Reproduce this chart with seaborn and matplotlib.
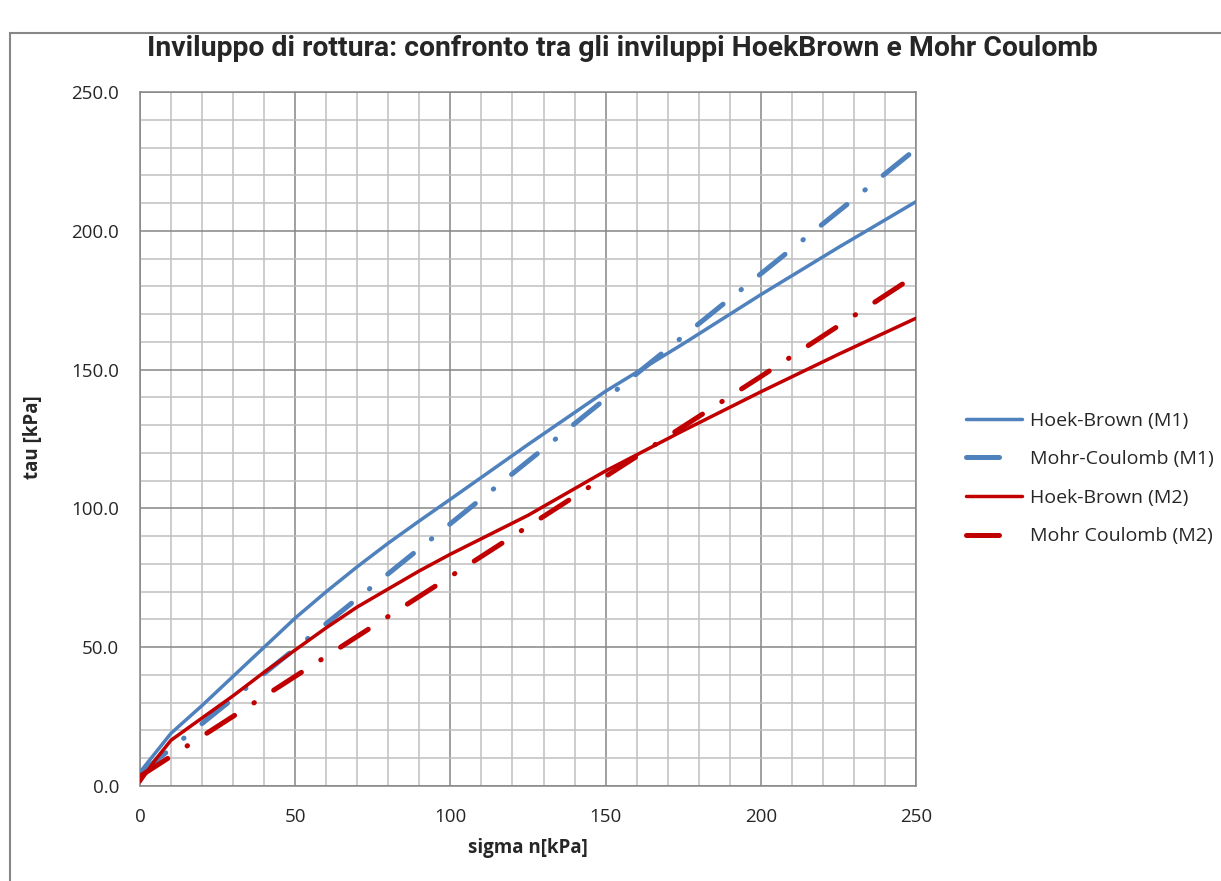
import numpy as np
import pandas as pd
import matplotlib
matplotlib.use("Agg")
import matplotlib.pyplot as plt
import seaborn as sns
from matplotlib.ticker import MultipleLocator, FormatStrFormatter
from matplotlib.patches import Rectangle

# ---- data ----
sigma_hb = [0, 5, 10, 20, 30, 40, 50, 60, 70, 80, 90, 100, 125, 150, 175, 200, 225, 250]
tau_hb_m1 = [5.0, 12.0, 19.0, 29.0, 39.5, 50.0, 60.5, 70.0, 79.0, 87.5, 95.5, 103.3,
             123.0, 142.2, 159.3, 177.0, 194.0, 210.5]
tau_hb_m2 = [1.5, 9.5, 16.5, 24.5, 32.5, 41.0, 49.0, 57.0, 64.5, 71.0, 77.5, 83.5,
             97.5, 113.5, 128.0, 142.0, 155.5, 168.5]
sigma_mc = [0, 50, 100, 150, 200, 250]
tau_mc_m1 = [4.5, 49.5, 94.5, 139.5, 184.5, 229.5]
tau_mc_m2 = [3.5, 39.5, 75.5, 111.5, 147.5, 184.0]

labels = ["Hoek-Brown (M1)", "Mohr-Coulomb (M1)", "Hoek-Brown (M2)", "Mohr Coulomb (M2)"]
title = "Inviluppo di rottura: confronto tra gli inviluppi HoekBrown e Mohr Coulomb"
xlabel = "sigma n[kPa]"
ylabel = "tau [kPa]"

BLUE = "#4F81BD"
RED = "#C00000"
GRID_MAJ = "#868686"
GRID_MIN = "#C0C0C0"

sns.set_theme(style="white")
plt.rcParams["font.family"] = ["Open Sans", "DejaVu Sans"]

W, H = 1221, 881
fig = plt.figure(figsize=(W / 100, H / 100), dpi=100)
ax = fig.add_axes([140 / W, 1 - 786 / H, (916 - 140) / W, (786 - 92) / H])

dashdot = (0, (6.6, 4.6, 0.1, 4.6))
series = [
    (sigma_hb, tau_hb_m1, BLUE, 2.5, "-", labels[0]),
    (sigma_mc, tau_mc_m1, BLUE, 3.6, dashdot, labels[1]),
    (sigma_hb, tau_hb_m2, RED, 2.5, "-", labels[2]),
    (sigma_mc, tau_mc_m2, RED, 3.6, dashdot, labels[3]),
]
for xs, ys, col, lw, ls, lab in series:
    df = pd.DataFrame({"sigma": xs, "tau": ys})
    sns.lineplot(data=df, x="sigma", y="tau", ax=ax, color=col, linewidth=lw,
                 linestyle=ls, label=lab, errorbar=None,
                 dash_capstyle="round", solid_capstyle="round",
                 solid_joinstyle="round", zorder=3)

ax.set_xlim(0, 250)
ax.set_ylim(0, 250)
ax.xaxis.set_major_locator(MultipleLocator(50))
ax.xaxis.set_minor_locator(MultipleLocator(10))
ax.yaxis.set_major_locator(MultipleLocator(50))
ax.yaxis.set_minor_locator(MultipleLocator(10))
ax.yaxis.set_major_formatter(FormatStrFormatter("%.1f"))
ax.set_axisbelow(True)
ax.grid(which="minor", color=GRID_MIN, linewidth=1.1)
ax.grid(which="major", color=GRID_MAJ, linewidth=1.1)
for s in ax.spines.values():
    s.set_color(GRID_MAJ)
    s.set_linewidth(1.1)

ax.tick_params(which="major", direction="out", length=5.5, width=1.1,
               color=GRID_MAJ, labelsize=13.5, labelcolor="#262626")
ax.tick_params(axis="y", which="major", pad=9.5)
ax.tick_params(axis="x", which="major", pad=10)
ax.tick_params(which="minor", length=0)

ax.set_xlabel(xlabel, fontsize=13.5, fontweight="bold", color="#262626")
ax.set_ylabel(ylabel, fontsize=13.5, fontweight="bold", color="#262626")
ax.xaxis.label.set_va("center")
ax.yaxis.label.set_va("center")
ax.xaxis.set_label_coords(0.5, (786 - 848) / 694)
ax.yaxis.set_label_coords((33 - 140) / 776, (786 - 437) / 694)

fig.text(622 / W, 1 - 48 / H, title, ha="center", va="center", fontsize=20.4,
         fontweight="bold", color="#262626",
         family=["Roboto", "DejaVu Sans"])

leg = ax.legend(loc="center left", bbox_to_anchor=(966 / W, 1 - 478.5 / H),
                bbox_transform=fig.transFigure, frameon=False, fontsize=14,
                handlelength=2.9, handletextpad=0.4, labelspacing=1.06,
                borderpad=0, borderaxespad=0)
for t in leg.get_texts():
    t.set_color("#262626")

fig.patches.append(Rectangle((10 / W, -0.05), 1.2, 1 - 33 / H + 0.05,
                             transform=fig.transFigure, fill=False,
                             edgecolor="#878787", linewidth=1.5))

fig.savefig("out.png", dpi=100)
